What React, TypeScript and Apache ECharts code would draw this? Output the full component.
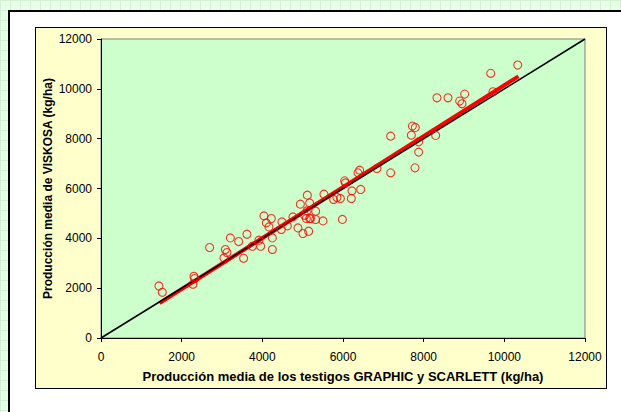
import React, { useEffect, useRef } from "react";
import * as echarts from "echarts";

const xValues = [
  1436, 1520, 2304, 2321, 2279, 2693, 3083, 3123, 3048, 3207, 3413, 3536, 3618, 3752, 3916, 3958,
  4040, 4099, 4164, 4223, 4248, 4248, 4471, 4486, 4620, 4759, 4883, 4943, 5007, 5049, 5091, 5116,
  5148, 5173, 5173, 5107, 5195, 5322, 5322, 5503, 5528, 5768, 5850, 5935, 5984, 6041, 6058, 6207,
  6222, 6438, 6371, 6413, 6842, 7182, 7182, 7695, 7720, 7794, 7876, 7876, 7785, 8298, 8330, 8603,
  8893, 8950, 9017, 9662, 9719, 10332,
];
const yValues = [
  2089, 1836, 2478, 2386, 2157, 3631, 3551, 3430, 3213, 4017, 3871, 3200, 4166, 3684, 3925, 3684,
  4901, 4620, 4459, 4796, 4017, 3551, 4354, 4660, 4499, 4861, 4419, 5371, 4194, 4929, 4796, 5732,
  4286, 5423, 4796, 5102, 4795, 5090, 4756, 4700, 5773, 5560, 5640, 5600, 4760, 6307, 6226, 5600,
  5905, 5961, 6628, 6737, 6805, 8102, 6628, 8142, 8504, 8451, 7873, 7460, 6829, 8131, 9641, 9641,
  9508, 9400, 9790, 10621, 9882, 10955,
];
const identityLine = [
  [0, 0],
  [12000, 12000],
];
const trendLine = [
  [1450, 1400],
  [10350, 10500],
];
const axisMin = 0;
const axisMax = 12000;
const axisStep = 2000;
const xTitle = "Producción media de los testigos GRAPHIC y SCARLETT (kg/ha)";
const yTitle = "Producción media de VISKOSA (kg/ha)";

const FONT = "'Liberation Sans', Arial, sans-serif";

function Chart() {
  const ref = useRef<HTMLDivElement>(null);
  useEffect(() => {
    if (!ref.current) return;
    const chart = echarts.init(ref.current, undefined, { renderer: "svg" });
    const points = xValues.map((x, i) => [x, yValues[i]]);
    const axisCommon = {
      type: "value" as const,
      min: axisMin,
      max: axisMax,
      interval: axisStep,
      nameLocation: "middle" as const,
      nameMoveOverlap: false,
      nameTextStyle: { fontFamily: FONT, fontSize: 12, fontWeight: "bold" as const, color: "#000" },
      axisLine: { show: true, onZero: false, lineStyle: { color: "#000", width: 1 } },
      axisTick: { show: true, inside: false, length: 4, lineStyle: { color: "#000" } },
      axisLabel: {
        fontFamily: FONT,
        fontSize: 12,
        color: "#000",
        formatter: (v: number) => String(v),
      },
      splitLine: { show: false },
    };
    chart.setOption({
      animation: false,
      backgroundColor: "transparent",
      grid: {
        left: 65,
        top: 11,
        right: 21,
        bottom: 50,
        containLabel: false,
        outerBoundsMode: "none",
        show: true,
        backgroundColor: "#CCFFCC",
        borderColor: "#808080",
        borderWidth: 1,
      },
      xAxis: {
        ...axisCommon,
        name: xTitle,
        nameGap: 32,
        nameTextStyle: { ...axisCommon.nameTextStyle, fontSize: 13 },
        axisLabel: { ...axisCommon.axisLabel, margin: 13 },
      },
      yAxis: {
        ...axisCommon,
        name: yTitle,
        nameGap: 47,
        axisLabel: { ...axisCommon.axisLabel, margin: 9 },
      },
      series: [
        {
          type: "line",
          data: trendLine,
          symbol: "none",
          lineStyle: { color: "#FF0000", width: 4 },
          z: 2,
        },
        {
          type: "line",
          data: identityLine,
          symbol: "none",
          lineStyle: { color: "#000000", width: 1.6 },
          z: 3,
        },
        {
          type: "scatter",
          data: points,
          symbol: "circle",
          symbolSize: 8,
          itemStyle: { color: "rgba(0,0,0,0)", borderColor: "#FF0000", borderWidth: 1.1 },
          z: 4,
        },
      ],
    });
    return () => chart.dispose();
  }, []);
  return (
    <div
      ref={ref}
      style={{
        position: "absolute",
        left: 35,
        top: 27,
        width: 570,
        height: 360,
        border: "1px solid #000",
        background: "#FFFFCC",
      }}
    />
  );
}

export default function App() {
  return (
    <div
      style={{
        position: "fixed",
        left: 0,
        top: 0,
        width: 621,
        height: 412,
        overflow: "hidden",
        backgroundColor: "#E8FFE8",
        backgroundImage:
          "linear-gradient(to right, #D2F2D2 1px, transparent 1px), linear-gradient(to bottom, #D2F2D2 1px, transparent 1px)",
        backgroundSize: "10px 10px",
      }}
    >
      <div
        style={{
          position: "absolute",
          left: 8,
          top: 10,
          width: 700,
          height: 500,
          background: "#FFFFFF",
          borderLeft: "2px solid #000",
          borderTop: "2px solid #000",
        }}
      />
      <Chart />
    </div>
  );
}
